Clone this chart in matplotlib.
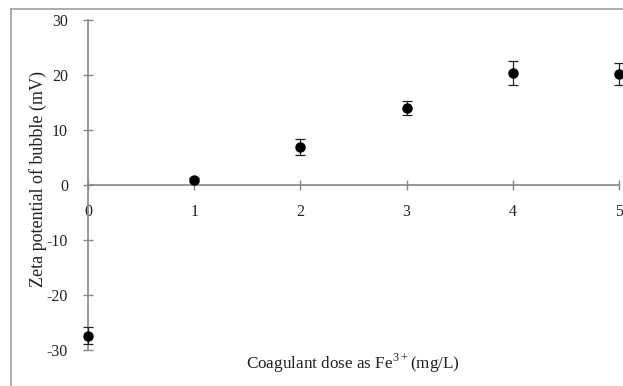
import matplotlib.pyplot as plt
from matplotlib.lines import Line2D

# data
dose = [0, 1, 2, 3, 4, 5]
zeta = [-27.4, 0.9, 6.9, 14.0, 20.4, 20.2]
zeta_err = [1.5, 0.3, 1.5, 1.2, 2.2, 2.0]

plt.rcParams['font.family'] = ['Liberation Serif', 'DejaVu Serif']
plt.rcParams['axes.unicode_minus'] = False
plt.rcParams['mathtext.fontset'] = 'custom'
plt.rcParams['mathtext.rm'] = 'Liberation Serif'

fig = plt.figure(figsize=(6.23, 3.86), dpi=100)
ax = fig.add_axes([0.1413, 0.0933, 0.8523, 0.8549])

ax.errorbar(dose, zeta, yerr=zeta_err, fmt='o', color='black', ms=6.5,
            capsize=3.5, elinewidth=0.9, capthick=0.9, ecolor='#222222',
            clip_on=False, zorder=5)

ax.set_xlim(0, 5)
ax.set_ylim(-30, 30)
ax.set_xticks(range(0, 6))
ax.set_yticks(range(-30, 31, 10))

axis_col = '#868686'
ax.spines['left'].set_position(('data', 0))
ax.spines['bottom'].set_position(('data', 0))
for s in ['top', 'right']:
    ax.spines[s].set_visible(False)
for s in ['left', 'bottom']:
    ax.spines[s].set_color(axis_col)
    ax.spines[s].set_linewidth(1.2)

ax.tick_params(axis='both', direction='inout', length=7, width=1,
               color=axis_col, labelsize=11.5, labelcolor='#222222')
ax.tick_params(axis='x', pad=10)
ax.tick_params(axis='y', pad=11)

fig.text(0.061, 0.535, 'Zeta potential of bubble (mV)', rotation=90,
         ha='center', va='center', fontsize=13, color='#222222')
fig.text(0.567, 0.058, r'Coagulant dose as Fe$^{\mathrm{3+}}$(mg/L)',
         ha='center', va='center', fontsize=12.3, color='#222222')

# outer frame (cropped)
fig.add_artist(Line2D([0.0177, 1.0], [0.9767, 0.9767], color='#a0a0a0', lw=1.2))
fig.add_artist(Line2D([0.0177, 0.0177], [0.0, 0.9767], color='#a0a0a0', lw=1.2))

fig.savefig('out.png', dpi=100)
